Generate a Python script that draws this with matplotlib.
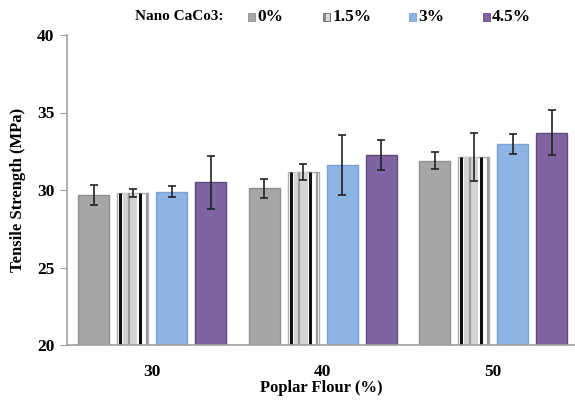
import matplotlib
matplotlib.use("Agg")
import matplotlib.pyplot as plt
from matplotlib.patches import Rectangle
import numpy as np

plt.rcParams['font.family'] = ['Liberation Serif', 'DejaVu Serif']
plt.rcParams['font.weight'] = 'bold'

categories = ["30", "40", "50"]
series_names = ["0%", "1.5%", "3%", "4.5%"]
values = {
    "0%":   [29.7, 30.1, 31.9],
    "1.5%": [29.8, 31.15, 32.1],
    "3%":   [29.9, 31.6, 32.95],
    "4.5%": [30.5, 32.25, 33.7],
}
errors = {
    "0%":   [0.65, 0.6, 0.55],
    "1.5%": [0.25, 0.5, 1.55],
    "3%":   [0.35, 1.95, 0.65],
    "4.5%": [1.7, 0.95, 1.45],
}
face = {"0%": "#a6a6a6", "1.5%": "#ffffff", "3%": "#8db4e2", "4.5%": "#8064a2"}
edge = {"0%": "#909090", "1.5%": "#b0b0b0", "3%": "#7aa2d4", "4.5%": "#5e4a7e"}

W, H = 575, 401
fig = plt.figure(figsize=(W / 100, H / 100), dpi=100)
ax = fig.add_axes([67 / W, 56 / H, 508 / W, 310 / H])

x = np.arange(len(categories))
step = 0.2294
width = 0.182
for i, name in enumerate(series_names):
    pos = x + (i - 1.5) * step
    bars = ax.bar(pos, values[name], width, bottom=0, color=face[name],
                  edgecolor=edge[name], linewidth=1.0, zorder=2)
    if name == "1.5%":
        for b in bars:
            bx, bw, bh = b.get_x(), b.get_width(), b.get_height()
            ax.add_patch(Rectangle((bx + 0.2 * bw, 0), 0.45 * bw, bh,
                                   facecolor="#d4d4d4", edgecolor="none", zorder=2.1))
            for frac, col, lw in [(0.1, "#111111", 2.2), (0.73, "#111111", 2.2),
                                  (0.38, "#9a9a9a", 1.6), (0.95, "#9a9a9a", 1.6)]:
                ax.plot([bx + frac * bw] * 2, [0, bh], color=col, lw=lw,
                        solid_capstyle='butt', zorder=2.2)
    ax.errorbar(pos, values[name], yerr=errors[name], fmt='none', ecolor='#222222',
                elinewidth=1.2, capsize=3, capthick=1.2, zorder=3)

ax.set_ylim(20, 40)
ax.set_xlim(-0.5, 2.48)
ax.set_yticks([20, 25, 30, 35, 40])
ax.set_xticks(x)
ax.set_xticklabels(categories)
ax.tick_params(axis='y', direction='out', length=5, color='#a0a0a0', labelsize=12.5, pad=4)
ax.tick_params(axis='x', length=0, labelsize=12.5, pad=14)
for lab in ax.get_xticklabels() + ax.get_yticklabels():
    lab.set_fontweight('bold')
for s in ['top', 'right']:
    ax.spines[s].set_visible(False)
for s in ['left', 'bottom']:
    ax.spines[s].set_color('#a0a0a0')
    ax.spines[s].set_linewidth(1.2)

ax.set_ylabel("Tensile Strength (MPa)", fontsize=12, fontweight='bold', labelpad=8)
ax.set_xlabel("Poplar Flour (%)", fontsize=12, fontweight='bold', labelpad=0)

# legend (manual layout)
ly = 1 - 17 / H
fig.text(223 / W, ly, "Nano CaCo3:", fontsize=11, fontweight='bold', va='center', ha='right')
sq_x = [251, 327, 412, 486]
sq = 7
for name, sx in zip(series_names, sq_x):
    fig.patches.append(Rectangle(((sx - sq / 2) / W, ly - (sq / 2) / H), sq / W, sq / H,
                                 transform=fig.transFigure, facecolor=face[name] if name != "1.5%" else "#dddddd",
                                 edgecolor=edge[name] if name != "1.5%" else "#666666",
                                 hatch='|||' if name == "1.5%" else None, linewidth=0.6))
    fig.text((sx + 6) / W, ly, name, fontsize=12.5, fontweight='bold', va='center', ha='left')

fig.savefig("out.png", dpi=100)
